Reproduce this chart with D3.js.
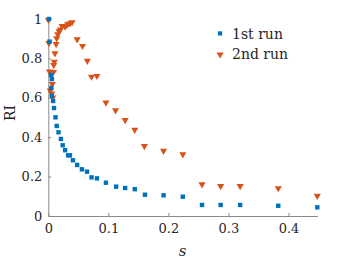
<html>
<meta charset="utf-8">
<head>
<script src="https://d3js.org/d3.v7.min.js"></script>
<style>
  html, body { margin:0; padding:0; background:#fff; }
  svg { display:block; }
</style>
</head>
<body>
<svg class="svg"></svg>
<script>

// 1st run (s, RI)
const run1S  = [0.001,0.002,0.0045,0.006,0.005,0.006,0.008,0.0095,0.012,0.014,0.017,0.021,0.024,0.028,0.033,0.036,0.041,0.048,0.056,0.0645,0.072,0.081,0.096,0.113,0.128,0.144,0.161,0.192,0.224,0.256,0.287,0.3195,0.383,0.448]
const run1RI = [1.0,0.885,0.716,0.695,0.65,0.61,0.584,0.548,0.501,0.457,0.425,0.391,0.359,0.334,0.308,0.308,0.283,0.259,0.237,0.225,0.196,0.191,0.169,0.149,0.142,0.136,0.108,0.105,0.098,0.056,0.056,0.056,0.052,0.044]

// 2nd run (s, RI)
const run2S  = [0.0003,0.001,0.013,0.011,0.010,0.009,0.002,0.0087,0.0067,0.0033,0.0057,0.0073,0.014,0.0157,0.018,0.020,0.023,0.028,0.032,0.036,0.0395,0.048,0.057,0.065,0.072,0.081,0.096,0.112,0.128,0.144,0.160,0.192,0.224,0.256,0.287,0.3195,0.383,0.448]
const run2RI = [0.995,0.878,0.873,0.826,0.783,0.766,0.733,0.731,0.670,0.637,0.622,0.601,0.902,0.922,0.937,0.947,0.964,0.961,0.973,0.978,0.983,0.897,0.863,0.788,0.707,0.711,0.576,0.536,0.487,0.437,0.355,0.331,0.313,0.161,0.152,0.152,0.141,0.102]

const xTicks = [0, 0.1, 0.2, 0.3, 0.4]
const yTicks = [0, 0.2, 0.4, 0.6, 0.8, 1]
const seriesNames = ["1st run", "2nd run"]

const W = 350, H = 263
const blue = "#0072BD", orange = "#D95319"
const axisGray = "#8a8a8a", textCol = "#262626"
const font = "DejaVu Serif"

const svg = d3.select("svg").attr("width", W).attr("height", H)

const x = d3.scaleLinear().domain([0, 0.448]).range([48.3, 317.3])
const y = d3.scaleLinear().domain([0, 1]).range([216, 19])

const fmt = d => d === 0 ? "0" : d === 1 ? "1" : d3.format(".1f")(d)

const xAxis = svg.append("g")
  .attr("transform", "translate(0," + y(0) + ")")
  .call(d3.axisBottom(x).tickValues(xTicks).tickSize(-3).tickSizeOuter(0).tickPadding(8).tickFormat(fmt))
const yAxis = svg.append("g")
  .attr("transform", "translate(" + x(0) + ",0)")
  .call(d3.axisLeft(y).tickValues(yTicks).tickSize(-3).tickSizeOuter(0).tickPadding(6).tickFormat(fmt))

;[xAxis, yAxis].forEach(g => {
  g.attr("font-family", font).attr("font-size", 13)
  g.select(".domain").attr("stroke", axisGray).attr("stroke-width", 1)
  g.selectAll(".tick line").attr("stroke", axisGray)
  g.selectAll(".tick text").attr("fill", textCol)
})

// axis titles
svg.append("text")
  .attr("transform", "translate(" + 15 + "," + 113 + ") rotate(-90)")
  .attr("text-anchor", "middle")
  .attr("font-family", font).attr("font-size", 14)
  .attr("fill", textCol)
  .text("RI")

svg.append("text")
  .attr("x", 182.7).attr("y", 256)
  .attr("text-anchor", "middle")
  .attr("font-family", font).attr("font-size", 15).attr("font-style", "italic")
  .attr("fill", textCol)
  .text("s")

const tri = d3.symbol().type(d3.symbolTriangle).size(22)

// 2nd run
svg.append("g").selectAll("path")
  .data(run2S.map((s, i) => [s, run2RI[i]]))
  .enter().append("path")
  .attr("d", tri)
  .attr("transform", d => "translate(" + x(d[0]) + "," + y(d[1]) + ") rotate(180)")
  .attr("fill", orange)

// 1st run
svg.append("g").selectAll("rect")
  .data(run1S.map((s, i) => [s, run1RI[i]]))
  .enter().append("rect")
  .attr("x", d => x(d[0]) - 2.2)
  .attr("y", d => y(d[1]) - 2.2)
  .attr("width", 4.4).attr("height", 4.4)
  .attr("fill", blue)

// legend
const leg = svg.append("g")
leg.append("rect").attr("x", 218).attr("y", 31.3).attr("width", 4.2).attr("height", 4.2).attr("fill", blue)
leg.append("path").attr("d", tri).attr("transform", "translate(220.1,54.5) rotate(180)").attr("fill", orange)
leg.selectAll("text").data(seriesNames).enter().append("text")
  .attr("x", 232).attr("y", (d, i) => 38.5 + i * 20.5)
  .attr("font-family", font).attr("font-size", 14)
  .attr("fill", textCol)
  .text(d => d)

</script>
</body>
</html>
